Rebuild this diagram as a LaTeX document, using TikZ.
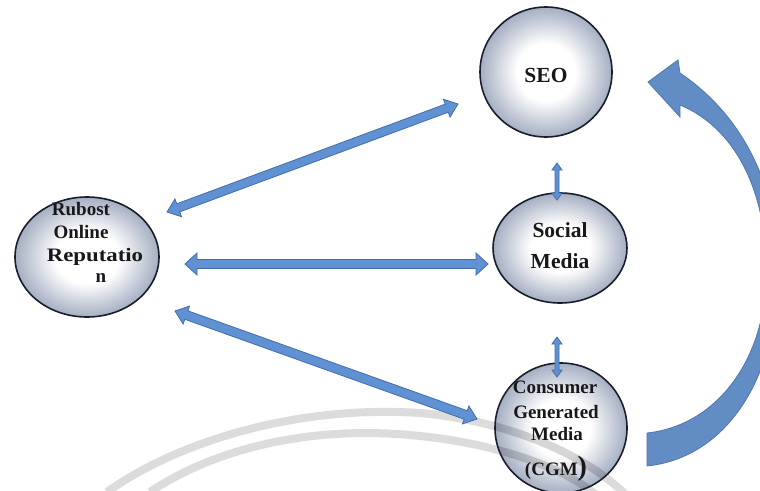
\documentclass[tikz,border=0pt]{standalone}
\usepackage{fontspec}
\setmainfont{Liberation Serif}
\usetikzlibrary{calc,shapes.geometric}
\definecolor{ballblue}{RGB}{100,118,150}
\definecolor{ballline}{RGB}{24,30,46}
\definecolor{arrfill}{RGB}{96,145,210}
\definecolor{arrline}{RGB}{66,110,172}
\definecolor{bigfill}{RGB}{98,140,196}
\definecolor{bigline}{RGB}{80,120,172}
\definecolor{wm}{RGB}{220,220,220}
\definecolor{txt}{RGB}{24,24,26}
\pgfdeclareradialshading{ballshade}{\pgfpointorigin}{color(0bp)=(white); color(11bp)=(white); color(35bp)=(ballblue); color(50bp)=(ballblue)}
\newcommand\fatarrow[5]{%
  \filldraw[fatarr] (#1) -- ($(#1)!#3!(#2)!#4!90:(#2)$) -- ($(#1)!#3!(#2)!#5!90:(#2)$)
   -- ($(#2)!#3!(#1)!#5!-90:(#1)$) -- ($(#2)!#3!(#1)!#4!-90:(#1)$) -- (#2)
   -- ($(#2)!#3!(#1)!#4!90:(#1)$) -- ($(#2)!#3!(#1)!#5!90:(#1)$)
   -- ($(#1)!#3!(#2)!#5!-90:(#2)$) -- ($(#1)!#3!(#2)!#4!-90:(#2)$) -- cycle;}
\tikzset{
  ball/.style={ellipse, draw=ballline, line width=1.6pt, shading=ballshade, inner sep=0pt},
  lbl/.style={text=txt, inner sep=0pt, anchor=base},
  fatarr/.style={fill=arrfill, draw=arrline, line width=0.8pt, line join=miter},
  wmark/.style={draw=wm, line width=8pt},
  wmover/.style={draw=black, opacity=0.16, line width=8pt},
}
\begin{document}
\begin{tikzpicture}[x=1pt,y=-1pt]
\fill[white] (0,0) rectangle (760,490);
\useasboundingbox (0,0) rectangle (760,490);
\clip (0,0) rectangle (760,490);
% watermark arcs
\draw[wmark] (107,492) .. controls (180,440) and (300,405) .. (420,413) .. controls (500,420) and (580,450) .. (625,494);
\draw[wmark] (150,492) .. controls (220,445) and (320,425) .. (420,436) .. controls (490,443) and (560,465) .. (595,494);
% nodes
\node[ball, minimum width=132pt, minimum height=130pt] (seo) at (546,72) {};
\node[ball, minimum width=134pt, minimum height=110pt] (soc) at (560,248) {};
\node[ball, minimum width=132pt, minimum height=130pt] (cgm) at (561,428) {};
\node[ball, minimum width=144pt, minimum height=120pt] (rub) at (87,257) {};
% watermark seen through CGM
\begin{scope}
\clip (cgm.center) ellipse [x radius=65pt, y radius=64pt];
\draw[wmover] (107,492) .. controls (180,440) and (300,405) .. (420,413) .. controls (500,420) and (580,450) .. (625,494);
\draw[wmover] (150,492) .. controls (220,445) and (320,425) .. (420,436) .. controls (490,443) and (560,465) .. (595,494);
\end{scope}
% connector end points
\coordinate (rseo) at (167,212);
\coordinate (seor) at (458,104);
\coordinate (rsoc) at (185,264);
\coordinate (socr) at (488,264);
\coordinate (rcgm) at (175,311);
\coordinate (cgmr) at (477,419);
\coordinate (seos) at (557,163);
\coordinate (socs) at (557,200);
\coordinate (socc) at (557,337);
\coordinate (cgms) at (557,377);
\fatarrow{rseo}{seor}{12pt}{9.5pt}{4.3pt}
\fatarrow{rsoc}{socr}{12pt}{11pt}{4.5pt}
\fatarrow{rcgm}{cgmr}{12pt}{9.5pt}{4.5pt}
\fatarrow{seos}{socs}{7pt}{5pt}{2pt}
\fatarrow{socc}{cgms}{7pt}{5pt}{2pt}
% labels
\node[lbl, font=\bfseries\fontsize{21.5pt}{21.5pt}\selectfont] (seot) at (546,82) {SEO};
\node[lbl, font=\bfseries\fontsize{21.5pt}{21.5pt}\selectfont] (soct1) at (560,237) {Social};
\node[lbl, font=\bfseries\fontsize{21.5pt}{21.5pt}\selectfont] (soct2) at (560,268) {Media};
\node[lbl, font=\bfseries\fontsize{19pt}{19pt}\selectfont] (rubt1) at (81,215) {Rubost};
\node[lbl, font=\bfseries\fontsize{19pt}{19pt}\selectfont] (rubt2) at (81,238) {Online};
\node[lbl, font=\bfseries\fontsize{19pt}{19pt}\selectfont] (rubt3) at (95,261) {\scalebox{1.2}[1]{Reputatio}};
\node[lbl, font=\bfseries\fontsize{19pt}{19pt}\selectfont] (rubt4) at (101,282) {n};
\node[lbl, font=\bfseries\fontsize{19pt}{19pt}\selectfont] (cgmt1) at (555,393) {Consumer};
\node[lbl, font=\bfseries\fontsize{19pt}{19pt}\selectfont] (cgmt2) at (556,418) {Generated};
\node[lbl, font=\bfseries\fontsize{19pt}{19pt}\selectfont] (cgmt3) at (557,440) {Media};
\node[lbl, font=\bfseries\fontsize{19pt}{19pt}\selectfont] (cgmt4) at (556,475) {(CGM{\fontsize{28pt}{28pt}\selectfont)}};
% big curved arrow from CGM back to SEO
\filldraw[fill=bigfill, draw=bigline, line width=0.8pt, line join=miter]
  (647,466) .. controls (725,458) and (778,380) .. (778,270)
  .. controls (778,185) and (742,115) .. (680,73)
  -- (678,60) -- (648,82) -- (680,117) -- (680,105)
  .. controls (740,130) and (768,200) .. (766,275)
  .. controls (766,355) and (720,425) .. (647,433) -- cycle;
\end{tikzpicture}
\end{document}
